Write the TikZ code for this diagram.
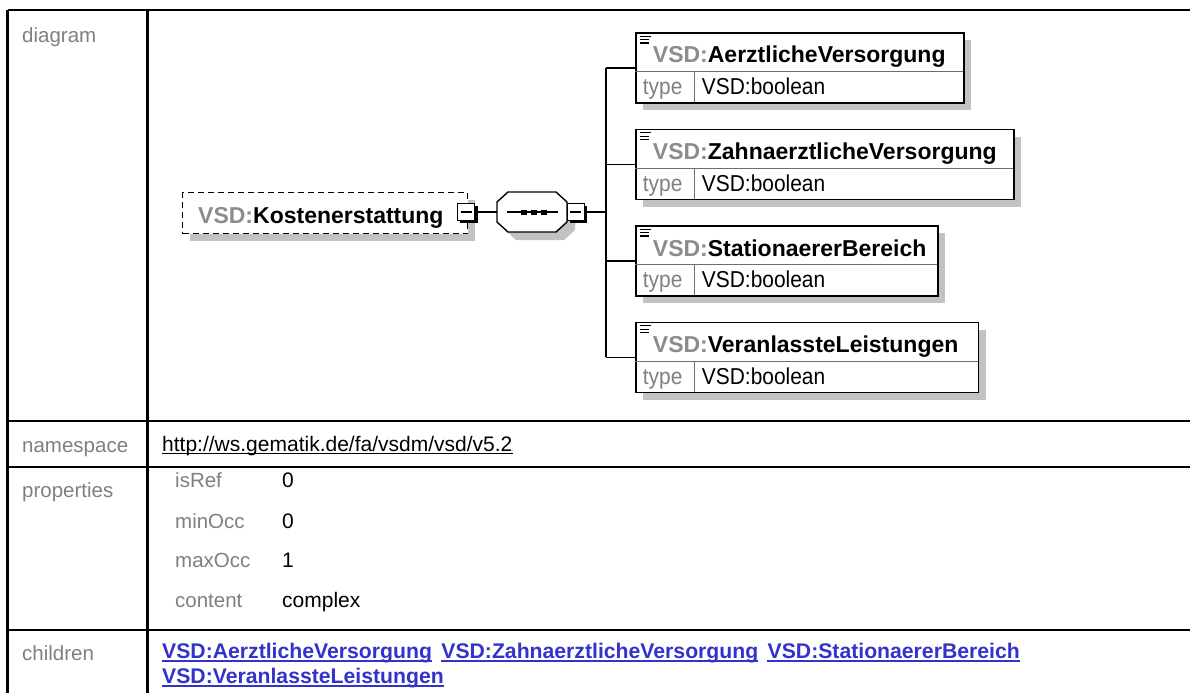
\documentclass[tikz,border=0pt]{standalone}
\usepackage{fontspec}
\setmainfont{Liberation Sans}
\newfontfamily\typefont[FakeStretch=0.91]{Liberation Sans}
\usetikzlibrary{calc}
\definecolor{lblgray}{RGB}{128,128,128}
\definecolor{pfxgray}{RGB}{140,140,140}
\definecolor{shadowgray}{RGB}{194,194,194}
\definecolor{linkblue}{RGB}{51,51,204}
\definecolor{sepgray}{RGB}{110,110,110}
\tikzset{
  tablerule/.style={line width=2.3pt, black},
  lbl/.style={anchor=base west, inner sep=0, text=lblgray, font=\fontsize{20.5}{24}\selectfont},
  val/.style={anchor=base west, inner sep=0, font=\fontsize{21}{25}\selectfont},
  link/.style={anchor=base west, inner sep=0, text=linkblue, font=\fontsize{21.2}{25}\selectfont\bfseries},
  linkrule/.style={linkblue, line width=1.8pt},
  elbox/.style={draw=black, line width=1.8pt, fill=white, rectangle, anchor=north west, inner sep=0},
  shadowfill/.style={fill=shadowgray, draw=none},
  conn/.style={line width=1.8pt, black},
  sepline/.style={line width=1pt, sepgray},
  elname/.style={anchor=base west, inner sep=0, font=\fontsize{23}{27}\selectfont\bfseries},
  typetext/.style={anchor=base west, inner sep=0, font=\typefont\fontsize{23}{27}\selectfont},
  minusbox/.style={draw=black, line width=1pt, fill=white, rectangle, minimum width=17pt, minimum height=17pt, inner sep=0},
  optbox/.style={draw=black, line width=1.4pt, dash pattern=on 6pt off 4pt, fill=white, rectangle, anchor=north west, inner sep=0},
}
\begin{document}
\begin{tikzpicture}[x=1pt,y=-1pt]
\useasboundingbox (0,0) rectangle (1190,693);
\fill[white] (0,0) rectangle (1190,693);

% ---------- table rules ----------
\draw[tablerule] (7.5,10) -- (1190,10);
\draw[tablerule] (7.5,10) -- (7.5,693);
\draw[tablerule] (147.5,10) -- (147.5,693);
\draw[tablerule] (7.5,421) -- (1190,421);
\draw[tablerule] (7.5,467) -- (1190,467);
\draw[tablerule] (7.5,630) -- (1190,630);

% ---------- row labels ----------
\node[lbl] (ldiag) at (22,43) {diagram};
\node[lbl] (lns) at (22,452) {namespace};
\node[lbl] (lprop) at (22,497) {properties};
\node[lbl] (lchild) at (22,660) {children};

% ---------- namespace ----------
\node[val] (url) at (162,451) {http://ws.gematik.de/fa/vsdm/vsd/v5.2};
\draw[line width=1.2pt] ([yshift=-2.5pt]url.base west) -- ([yshift=-2.5pt]url.base east);

% ---------- properties ----------
\node[lbl] (pk1) at (175,487) {isRef};   \node[val] (pv1) at (282,487) {0};
\node[lbl] (pk2) at (175,528) {minOcc};  \node[val] (pv2) at (282,528) {0};
\node[lbl] (pk3) at (175,567) {maxOcc};  \node[val] (pv3) at (282,567) {1};
\node[lbl] (pk4) at (175,607) {content}; \node[val] (pv4) at (282,607) {complex};

% ---------- children ----------
\node[link] (ch1) at (162,658) {VSD:AerztlicheVersorgung};
\node[link] (ch2) at ([xshift=9pt]ch1.base east) {VSD:ZahnaerztlicheVersorgung};
\node[link] (ch3) at ([xshift=9pt]ch2.base east) {VSD:StationaererBereich};
\node[link] (ch4) at (162,683) {VSD:VeranlassteLeistungen};
\foreach \c in {ch1,ch2,ch3,ch4}
  \draw[linkrule] ([yshift=-3pt]\c.base west) -- ([yshift=-3pt]\c.base east);

% ---------- diagram: root element ----------
\fill[shadowfill] (190,200) rectangle (475,241);
\node[optbox, minimum width=285pt, minimum height=41pt] (k) at (182,192) {};
\node[elname] (kt) at (198,223) {\textcolor{pfxgray}{VSD:}Kostenerstattung};

% minus box 1
\fill[black] (460,205.5) rectangle (477.5,223);
\node[minusbox] (m1) at (466,212) {};
\draw[line width=1.2pt] (460.5,212) -- (471.5,212);

% sequence compositor
\node[minimum width=70pt, minimum height=40pt, inner sep=0] (seq) at (532,212) {};
\fill[shadowfill, shift={(8,8)}] (497,202) -- (508,192) -- (556,192) -- (567,202) -- (567,222) -- (556,232) -- (508,232) -- (497,222) -- cycle;
\draw[line width=1.4pt, fill=white] (497,202) -- (508,192) -- (556,192) -- (567,202) -- (567,222) -- (556,232) -- (508,232) -- (497,222) -- cycle;
\draw[line width=1.5pt] (506.5,212) -- (557.5,212);
\fill[black] (520.5,209.5) rectangle (526.5,214.5);
\fill[black] (530.5,209.5) rectangle (536.5,214.5);
\fill[black] (540.5,209.5) rectangle (546.5,214.5);

% minus box 2
\fill[black] (569.5,205.5) rectangle (587,223);
\node[minusbox] (m2) at (575.5,212) {};
\draw[line width=1.2pt] (570,212) -- (581,212);

\draw[conn] (m1.east) -- (seq.west);
\coordinate (bus) at (606,212);
\draw[conn] (m2.east) -- (bus);

% ---------- child elements ----------
\foreach \i/\ty/\rx/\nm in {1/32/963/AerztlicheVersorgung,
                           2/128.5/1013/ZahnaerztlicheVersorgung,
                           3/225/937/StationaererBereich,
                           4/321.5/977.5/VeranlassteLeistungen}{
  \fill[shadowfill] (643,\ty+8) rectangle (\rx+8,\ty+78);
  \node[elbox, minimum width={\rx-635}, minimum height=70pt] (c\i) at (635,\ty) {};
  \draw[sepline] (635,\ty+39.5) -- (\rx,\ty+39.5);
  \draw[sepline] (694,\ty+39.5) -- (694,\ty+70);
  \draw[line width=1.2pt] (640,\ty+4.3) -- (651,\ty+4.3);
  \draw[line width=1.2pt] (640,\ty+7.7) -- (649,\ty+7.7);
  \draw[line width=1.2pt] (640,\ty+11) -- (649,\ty+11);
  \node[elname] (n\i) at (652.7,\ty+31) {\textcolor{pfxgray}{VSD:}\nm};
  \node[typetext, text=lblgray] (tl\i) at (642.7,\ty+62.7) {type};
  \node[typetext] (tv\i) at (701.7,\ty+62.7) {VSD:boolean};
}
\draw[conn] (c1.west -| bus) -- (c4.west -| bus);
\foreach \i in {1,2,3,4}
  \draw[conn] (c\i.west -| bus) -- (c\i.west);

\end{tikzpicture}
\end{document}
